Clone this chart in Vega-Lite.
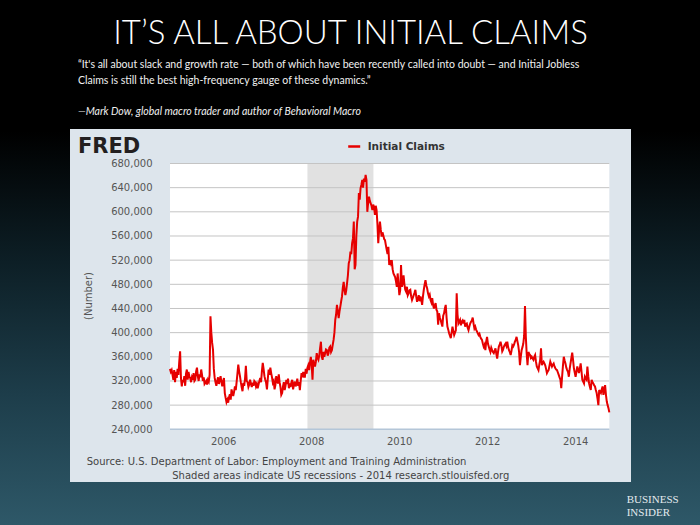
{
"$schema":"https://vega.github.io/schema/vega-lite/v6.json",
"autosize":{"type":"none"},
"width":561,"height":353,
"padding":{"left":70,"top":129,"right":69,"bottom":43},
"background":"#000000",
"config":{"view":{"stroke":null,"fill":null},"font":"DejaVu Sans"},
"title":{"text":"IT’S ALL ABOUT INITIAL CLAIMS","font":"Lato","fontWeight":300,"fontSize":33,"color":"#ffffff","anchor":"middle","frame":"group","offset":-51},
"datasets":{"claims":[
{"date":"2004-10-16","claims":340000},{"date":"2004-10-23","claims":335000},{"date":"2004-10-30","claims":338000},{"date":"2004-11-06","claims":330000},{"date":"2004-11-13","claims":322000},{"date":"2004-11-20","claims":338000},{"date":"2004-11-27","claims":318000},{"date":"2004-12-04","claims":335000},{"date":"2004-12-11","claims":325000},{"date":"2004-12-18","claims":340000},{"date":"2004-12-25","claims":330000},
{"date":"2005-01-01","claims":352000},{"date":"2005-01-08","claims":369000},{"date":"2005-01-15","claims":325000},{"date":"2005-01-22","claims":311000},{"date":"2005-01-29","claims":322000},{"date":"2005-02-05","claims":318000},{"date":"2005-02-12","claims":328000},{"date":"2005-02-19","claims":312000},{"date":"2005-02-26","claims":332000},{"date":"2005-03-05","claims":339000},{"date":"2005-03-12","claims":322000},{"date":"2005-03-19","claims":335000},{"date":"2005-03-26","claims":327000},{"date":"2005-04-02","claims":325000},{"date":"2005-04-09","claims":318000},{"date":"2005-04-16","claims":326000},{"date":"2005-04-23","claims":322000},{"date":"2005-04-30","claims":333000},{"date":"2005-05-07","claims":320000},{"date":"2005-05-14","claims":322000},{"date":"2005-05-21","claims":336000},{"date":"2005-05-28","claims":342000},{"date":"2005-06-04","claims":328000},{"date":"2005-06-11","claims":320000},{"date":"2005-06-18","claims":331000},{"date":"2005-06-25","claims":326000},{"date":"2005-07-02","claims":339000},{"date":"2005-07-09","claims":330000},{"date":"2005-07-16","claims":320000},{"date":"2005-07-23","claims":326000},{"date":"2005-07-30","claims":315000},{"date":"2005-08-06","claims":317000},{"date":"2005-08-13","claims":320000},{"date":"2005-08-20","claims":314000},{"date":"2005-08-27","claims":322000},{"date":"2005-09-03","claims":319000},{"date":"2005-09-10","claims":330000},{"date":"2005-09-17","claims":427000},{"date":"2005-09-24","claims":400000},{"date":"2005-10-01","claims":383000},{"date":"2005-10-08","claims":372000},{"date":"2005-10-15","claims":340000},{"date":"2005-10-22","claims":325000},{"date":"2005-10-29","claims":318000},{"date":"2005-11-05","claims":312000},{"date":"2005-11-12","claims":320000},{"date":"2005-11-19","claims":326000},{"date":"2005-11-26","claims":315000},{"date":"2005-12-03","claims":322000},{"date":"2005-12-10","claims":328000},{"date":"2005-12-17","claims":318000},{"date":"2005-12-24","claims":311000},{"date":"2005-12-31","claims":320000},
{"date":"2006-01-07","claims":325000},{"date":"2006-01-14","claims":300000},{"date":"2006-01-21","claims":292000},{"date":"2006-01-28","claims":285000},{"date":"2006-02-04","claims":289000},{"date":"2006-02-11","claims":284000},{"date":"2006-02-18","claims":293000},{"date":"2006-02-25","claims":298000},{"date":"2006-03-04","claims":289000},{"date":"2006-03-11","claims":306000},{"date":"2006-03-18","claims":300000},{"date":"2006-03-25","claims":295000},{"date":"2006-04-01","claims":302000},{"date":"2006-04-08","claims":311000},{"date":"2006-04-15","claims":305000},{"date":"2006-04-22","claims":318000},{"date":"2006-04-29","claims":332000},{"date":"2006-05-06","claims":347000},{"date":"2006-05-13","claims":336000},{"date":"2006-05-20","claims":328000},{"date":"2006-05-27","claims":318000},{"date":"2006-06-03","claims":310000},{"date":"2006-06-10","claims":303000},{"date":"2006-06-17","claims":317000},{"date":"2006-06-24","claims":312000},{"date":"2006-07-01","claims":324000},{"date":"2006-07-08","claims":345000},{"date":"2006-07-15","claims":320000},{"date":"2006-07-22","claims":318000},{"date":"2006-07-29","claims":310000},{"date":"2006-08-05","claims":314000},{"date":"2006-08-12","claims":322000},{"date":"2006-08-19","claims":315000},{"date":"2006-08-26","claims":310000},{"date":"2006-09-02","claims":317000},{"date":"2006-09-09","claims":312000},{"date":"2006-09-16","claims":320000},{"date":"2006-09-23","claims":318000},{"date":"2006-09-30","claims":311000},{"date":"2006-10-07","claims":315000},{"date":"2006-10-14","claims":308000},{"date":"2006-10-21","claims":314000},{"date":"2006-10-28","claims":320000},{"date":"2006-11-04","claims":325000},{"date":"2006-11-11","claims":318000},{"date":"2006-11-18","claims":336000},{"date":"2006-11-25","claims":350000},{"date":"2006-12-02","claims":340000},{"date":"2006-12-09","claims":328000},{"date":"2006-12-16","claims":322000},{"date":"2006-12-23","claims":317000},{"date":"2006-12-30","claims":306000},
{"date":"2007-01-06","claims":324000},{"date":"2007-01-13","claims":339000},{"date":"2007-01-20","claims":330000},{"date":"2007-01-27","claims":342000},{"date":"2007-02-03","claims":333000},{"date":"2007-02-10","claims":326000},{"date":"2007-02-17","claims":317000},{"date":"2007-02-24","claims":320000},{"date":"2007-03-03","claims":306000},{"date":"2007-03-10","claims":313000},{"date":"2007-03-17","claims":328000},{"date":"2007-03-24","claims":320000},{"date":"2007-03-31","claims":316000},{"date":"2007-04-07","claims":331000},{"date":"2007-04-14","claims":318000},{"date":"2007-04-21","claims":310000},{"date":"2007-04-28","claims":297000},{"date":"2007-05-05","claims":300000},{"date":"2007-05-12","claims":311000},{"date":"2007-05-19","claims":318000},{"date":"2007-05-26","claims":305000},{"date":"2007-06-02","claims":312000},{"date":"2007-06-09","claims":322000},{"date":"2007-06-16","claims":315000},{"date":"2007-06-23","claims":324000},{"date":"2007-06-30","claims":308000},{"date":"2007-07-07","claims":316000},{"date":"2007-07-14","claims":310000},{"date":"2007-07-21","claims":318000},{"date":"2007-07-28","claims":322000},{"date":"2007-08-04","claims":306000},{"date":"2007-08-11","claims":314000},{"date":"2007-08-18","claims":319000},{"date":"2007-08-25","claims":311000},{"date":"2007-09-01","claims":316000},{"date":"2007-09-08","claims":324000},{"date":"2007-09-15","claims":312000},{"date":"2007-09-22","claims":318000},{"date":"2007-09-29","claims":305000},{"date":"2007-10-06","claims":320000},{"date":"2007-10-13","claims":333000},{"date":"2007-10-20","claims":326000},{"date":"2007-10-27","claims":335000},{"date":"2007-11-03","claims":327000},{"date":"2007-11-10","claims":327000},{"date":"2007-11-17","claims":340000},{"date":"2007-11-24","claims":332000},{"date":"2007-12-01","claims":342000},{"date":"2007-12-08","claims":346000},{"date":"2007-12-15","claims":338000},{"date":"2007-12-22","claims":350000},{"date":"2007-12-29","claims":360000},
{"date":"2008-01-05","claims":348000},{"date":"2008-01-12","claims":322000},{"date":"2008-01-19","claims":355000},{"date":"2008-01-26","claims":349000},{"date":"2008-02-02","claims":344000},{"date":"2008-02-09","claims":352000},{"date":"2008-02-16","claims":366000},{"date":"2008-02-23","claims":358000},{"date":"2008-03-01","claims":355000},{"date":"2008-03-08","claims":362000},{"date":"2008-03-15","claims":374000},{"date":"2008-03-22","claims":385000},{"date":"2008-03-29","claims":360000},{"date":"2008-04-05","claims":355000},{"date":"2008-04-12","claims":368000},{"date":"2008-04-19","claims":360000},{"date":"2008-04-26","claims":366000},{"date":"2008-05-03","claims":372000},{"date":"2008-05-10","claims":371000},{"date":"2008-05-17","claims":362000},{"date":"2008-05-24","claims":366000},{"date":"2008-05-31","claims":375000},{"date":"2008-06-07","claims":377000},{"date":"2008-06-14","claims":368000},{"date":"2008-06-21","claims":371000},{"date":"2008-06-28","claims":380000},{"date":"2008-07-05","claims":388000},{"date":"2008-07-12","claims":400000},{"date":"2008-07-19","claims":421000},{"date":"2008-07-26","claims":430000},{"date":"2008-08-02","claims":446000},{"date":"2008-08-09","claims":436000},{"date":"2008-08-16","claims":424000},{"date":"2008-08-23","claims":435000},{"date":"2008-08-30","claims":443000},{"date":"2008-09-06","claims":452000},{"date":"2008-09-13","claims":460000},{"date":"2008-09-20","claims":475000},{"date":"2008-09-27","claims":484000},{"date":"2008-10-04","claims":470000},{"date":"2008-10-11","claims":462000},{"date":"2008-10-18","claims":470000},{"date":"2008-10-25","claims":482000},{"date":"2008-11-01","claims":495000},{"date":"2008-11-08","claims":515000},{"date":"2008-11-15","claims":520000},{"date":"2008-11-22","claims":534000},{"date":"2008-11-29","claims":530000},{"date":"2008-12-06","claims":548000},{"date":"2008-12-13","claims":556000},{"date":"2008-12-20","claims":584000},{"date":"2008-12-27","claims":505000},
{"date":"2009-01-03","claims":512000},{"date":"2009-01-10","claims":560000},{"date":"2009-01-17","claims":584000},{"date":"2009-01-24","claims":592000},{"date":"2009-01-31","claims":631000},{"date":"2009-02-07","claims":620000},{"date":"2009-02-14","claims":639000},{"date":"2009-02-21","claims":645000},{"date":"2009-02-28","claims":653000},{"date":"2009-03-07","claims":640000},{"date":"2009-03-14","claims":655000},{"date":"2009-03-21","claims":650000},{"date":"2009-03-28","claims":661000},{"date":"2009-04-04","claims":653000},{"date":"2009-04-11","claims":600000},{"date":"2009-04-18","claims":615000},{"date":"2009-04-25","claims":625000},{"date":"2009-05-02","claims":618000},{"date":"2009-05-09","claims":614000},{"date":"2009-05-16","claims":610000},{"date":"2009-05-23","claims":603000},{"date":"2009-05-30","claims":612000},{"date":"2009-06-06","claims":608000},{"date":"2009-06-13","claims":595000},{"date":"2009-06-20","claims":610000},{"date":"2009-06-27","claims":603000},{"date":"2009-07-04","claims":580000},{"date":"2009-07-11","claims":548000},{"date":"2009-07-18","claims":570000},{"date":"2009-07-25","claims":584000},{"date":"2009-08-01","claims":570000},{"date":"2009-08-08","claims":559000},{"date":"2009-08-15","claims":566000},{"date":"2009-08-22","claims":561000},{"date":"2009-08-29","claims":555000},{"date":"2009-09-05","claims":553000},{"date":"2009-09-12","claims":545000},{"date":"2009-09-19","claims":537000},{"date":"2009-09-26","claims":530000},{"date":"2009-10-03","claims":542000},{"date":"2009-10-10","claims":512000},{"date":"2009-10-17","claims":520000},{"date":"2009-10-24","claims":515000},{"date":"2009-10-31","claims":520000},{"date":"2009-11-07","claims":505000},{"date":"2009-11-14","claims":498000},{"date":"2009-11-21","claims":495000},{"date":"2009-11-28","claims":492000},{"date":"2009-12-05","claims":485000},{"date":"2009-12-12","claims":476000},{"date":"2009-12-19","claims":498000},{"date":"2009-12-26","claims":480000},
{"date":"2010-01-02","claims":462000},{"date":"2010-01-09","claims":470000},{"date":"2010-01-16","claims":512000},{"date":"2010-01-23","claims":476000},{"date":"2010-01-30","claims":482000},{"date":"2010-02-06","claims":495000},{"date":"2010-02-13","claims":480000},{"date":"2010-02-20","claims":471000},{"date":"2010-02-27","claims":468000},{"date":"2010-03-06","claims":476000},{"date":"2010-03-13","claims":462000},{"date":"2010-03-20","claims":465000},{"date":"2010-03-27","claims":470000},{"date":"2010-04-03","claims":471000},{"date":"2010-04-10","claims":460000},{"date":"2010-04-17","claims":454000},{"date":"2010-04-24","claims":458000},{"date":"2010-05-01","claims":462000},{"date":"2010-05-08","claims":466000},{"date":"2010-05-15","claims":471000},{"date":"2010-05-22","claims":460000},{"date":"2010-05-29","claims":451000},{"date":"2010-06-05","claims":456000},{"date":"2010-06-12","claims":462000},{"date":"2010-06-19","claims":452000},{"date":"2010-06-26","claims":460000},{"date":"2010-07-03","claims":455000},{"date":"2010-07-10","claims":446000},{"date":"2010-07-17","claims":460000},{"date":"2010-07-24","claims":471000},{"date":"2010-07-31","claims":480000},{"date":"2010-08-07","claims":487000},{"date":"2010-08-14","claims":478000},{"date":"2010-08-21","claims":473000},{"date":"2010-08-28","claims":465000},{"date":"2010-09-04","claims":460000},{"date":"2010-09-11","claims":463000},{"date":"2010-09-18","claims":454000},{"date":"2010-09-25","claims":450000},{"date":"2010-10-02","claims":457000},{"date":"2010-10-09","claims":446000},{"date":"2010-10-16","claims":440000},{"date":"2010-10-23","claims":445000},{"date":"2010-10-30","claims":449000},{"date":"2010-11-06","claims":438000},{"date":"2010-11-13","claims":435000},{"date":"2010-11-20","claims":413000},{"date":"2010-11-27","claims":432000},{"date":"2010-12-04","claims":425000},{"date":"2010-12-11","claims":421000},{"date":"2010-12-18","claims":415000},{"date":"2010-12-25","claims":410000},
{"date":"2011-01-01","claims":428000},{"date":"2011-01-08","claims":432000},{"date":"2011-01-15","claims":440000},{"date":"2011-01-22","claims":446000},{"date":"2011-01-29","claims":425000},{"date":"2011-02-05","claims":410000},{"date":"2011-02-12","claims":405000},{"date":"2011-02-19","claims":399000},{"date":"2011-02-26","claims":395000},{"date":"2011-03-05","claims":391000},{"date":"2011-03-12","claims":400000},{"date":"2011-03-19","claims":410000},{"date":"2011-03-26","claims":403000},{"date":"2011-04-02","claims":396000},{"date":"2011-04-09","claims":400000},{"date":"2011-04-16","claims":404000},{"date":"2011-04-23","claims":465000},{"date":"2011-04-30","claims":430000},{"date":"2011-05-07","claims":415000},{"date":"2011-05-14","claims":418000},{"date":"2011-05-21","claims":421000},{"date":"2011-05-28","claims":412000},{"date":"2011-06-04","claims":418000},{"date":"2011-06-11","claims":420000},{"date":"2011-06-18","claims":415000},{"date":"2011-06-25","claims":421000},{"date":"2011-07-02","claims":410000},{"date":"2011-07-09","claims":414000},{"date":"2011-07-16","claims":415000},{"date":"2011-07-23","claims":408000},{"date":"2011-07-30","claims":404000},{"date":"2011-08-06","claims":410000},{"date":"2011-08-13","claims":415000},{"date":"2011-08-20","claims":418000},{"date":"2011-08-27","claims":420000},{"date":"2011-09-03","claims":425000},{"date":"2011-09-10","claims":415000},{"date":"2011-09-17","claims":407000},{"date":"2011-09-24","claims":410000},{"date":"2011-10-01","claims":405000},{"date":"2011-10-08","claims":402000},{"date":"2011-10-15","claims":399000},{"date":"2011-10-22","claims":396000},{"date":"2011-10-29","claims":398000},{"date":"2011-11-05","claims":393000},{"date":"2011-11-12","claims":390000},{"date":"2011-11-19","claims":388000},{"date":"2011-11-26","claims":382000},{"date":"2011-12-03","claims":377000},{"date":"2011-12-10","claims":380000},{"date":"2011-12-17","claims":371000},{"date":"2011-12-24","claims":385000},{"date":"2011-12-31","claims":393000},
{"date":"2012-01-07","claims":382000},{"date":"2012-01-14","claims":377000},{"date":"2012-01-21","claims":372000},{"date":"2012-01-28","claims":368000},{"date":"2012-02-04","claims":375000},{"date":"2012-02-11","claims":371000},{"date":"2012-02-18","claims":368000},{"date":"2012-02-25","claims":366000},{"date":"2012-03-03","claims":370000},{"date":"2012-03-10","claims":374000},{"date":"2012-03-17","claims":365000},{"date":"2012-03-24","claims":357000},{"date":"2012-03-31","claims":368000},{"date":"2012-04-07","claims":377000},{"date":"2012-04-14","claims":380000},{"date":"2012-04-21","claims":385000},{"date":"2012-04-28","claims":379000},{"date":"2012-05-05","claims":369000},{"date":"2012-05-12","claims":372000},{"date":"2012-05-19","claims":377000},{"date":"2012-05-26","claims":380000},{"date":"2012-06-02","claims":382000},{"date":"2012-06-09","claims":378000},{"date":"2012-06-16","claims":385000},{"date":"2012-06-23","claims":376000},{"date":"2012-06-30","claims":371000},{"date":"2012-07-07","claims":368000},{"date":"2012-07-14","claims":363000},{"date":"2012-07-21","claims":370000},{"date":"2012-07-28","claims":379000},{"date":"2012-08-04","claims":377000},{"date":"2012-08-11","claims":380000},{"date":"2012-08-18","claims":385000},{"date":"2012-08-25","claims":388000},{"date":"2012-09-01","claims":393000},{"date":"2012-09-08","claims":386000},{"date":"2012-09-15","claims":379000},{"date":"2012-09-22","claims":368000},{"date":"2012-09-29","claims":346000},{"date":"2012-10-06","claims":360000},{"date":"2012-10-13","claims":371000},{"date":"2012-10-20","claims":376000},{"date":"2012-10-27","claims":382000},{"date":"2012-11-03","claims":395000},{"date":"2012-11-10","claims":444000},{"date":"2012-11-17","claims":393000},{"date":"2012-11-24","claims":365000},{"date":"2012-12-01","claims":346000},{"date":"2012-12-08","claims":368000},{"date":"2012-12-15","claims":365000},{"date":"2012-12-22","claims":363000},{"date":"2012-12-29","claims":358000},
{"date":"2013-01-05","claims":360000},{"date":"2013-01-12","claims":357000},{"date":"2013-01-19","claims":355000},{"date":"2013-01-26","claims":360000},{"date":"2013-02-02","claims":363000},{"date":"2013-02-09","claims":352000},{"date":"2013-02-16","claims":344000},{"date":"2013-02-23","claims":341000},{"date":"2013-03-02","claims":338000},{"date":"2013-03-09","claims":347000},{"date":"2013-03-16","claims":355000},{"date":"2013-03-23","claims":374000},{"date":"2013-03-30","claims":346000},{"date":"2013-04-06","claims":350000},{"date":"2013-04-13","claims":352000},{"date":"2013-04-20","claims":349000},{"date":"2013-04-27","claims":346000},{"date":"2013-05-04","claims":340000},{"date":"2013-05-11","claims":333000},{"date":"2013-05-18","claims":336000},{"date":"2013-05-25","claims":338000},{"date":"2013-06-01","claims":345000},{"date":"2013-06-08","claims":352000},{"date":"2013-06-15","claims":348000},{"date":"2013-06-22","claims":344000},{"date":"2013-06-29","claims":347000},{"date":"2013-07-06","claims":349000},{"date":"2013-07-13","claims":344000},{"date":"2013-07-20","claims":341000},{"date":"2013-07-27","claims":339000},{"date":"2013-08-03","claims":338000},{"date":"2013-08-10","claims":334000},{"date":"2013-08-17","claims":330000},{"date":"2013-08-24","claims":326000},{"date":"2013-08-31","claims":322000},{"date":"2013-09-07","claims":308000},{"date":"2013-09-14","claims":327000},{"date":"2013-09-21","claims":345000},{"date":"2013-09-28","claims":360000},{"date":"2013-10-05","claims":354000},{"date":"2013-10-12","claims":349000},{"date":"2013-10-19","claims":342000},{"date":"2013-10-26","claims":338000},{"date":"2013-11-02","claims":335000},{"date":"2013-11-09","claims":327000},{"date":"2013-11-16","claims":340000},{"date":"2013-11-23","claims":349000},{"date":"2013-11-30","claims":358000},{"date":"2013-12-07","claims":367000},{"date":"2013-12-14","claims":355000},{"date":"2013-12-21","claims":341000},{"date":"2013-12-28","claims":334000},
{"date":"2014-01-04","claims":327000},{"date":"2014-01-11","claims":335000},{"date":"2014-01-18","claims":344000},{"date":"2014-01-25","claims":339000},{"date":"2014-02-01","claims":333000},{"date":"2014-02-08","claims":340000},{"date":"2014-02-15","claims":349000},{"date":"2014-02-22","claims":336000},{"date":"2014-03-01","claims":322000},{"date":"2014-03-08","claims":319000},{"date":"2014-03-15","claims":316000},{"date":"2014-03-22","claims":327000},{"date":"2014-03-29","claims":324000},{"date":"2014-04-05","claims":322000},{"date":"2014-04-12","claims":344000},{"date":"2014-04-19","claims":328000},{"date":"2014-04-26","claims":316000},{"date":"2014-05-03","claims":310000},{"date":"2014-05-10","claims":305000},{"date":"2014-05-17","claims":322000},{"date":"2014-05-24","claims":318000},{"date":"2014-05-31","claims":316000},{"date":"2014-06-07","claims":313000},{"date":"2014-06-14","claims":311000},{"date":"2014-06-21","claims":305000},{"date":"2014-06-28","claims":300000},{"date":"2014-07-05","claims":291000},{"date":"2014-07-12","claims":280000},{"date":"2014-07-19","claims":305000},{"date":"2014-07-26","claims":302000},{"date":"2014-08-02","claims":300000},{"date":"2014-08-09","claims":306000},{"date":"2014-08-16","claims":311000},{"date":"2014-08-23","claims":297000},{"date":"2014-08-30","claims":304000},{"date":"2014-09-06","claims":313000},{"date":"2014-09-13","claims":297000},{"date":"2014-09-20","claims":286000},{"date":"2014-09-27","claims":280000},{"date":"2014-10-04","claims":275000},{"date":"2014-10-11","claims":268000}
]},
"layer":[
{"data":{"values":[{}]},
 "mark":{"type":"rect","fill":{"gradient":"linear","x1":0,"y1":0,"x2":0,"y2":1,"stops":[{"offset":0,"color":"#000000"},{"offset":0.25,"color":"#000000"},{"offset":0.5,"color":"#0d1f26"},{"offset":0.75,"color":"#1d3d4a"},{"offset":1,"color":"#2e5868"}]}},
 "encoding":{
  "x":{"datum":{"year":2000,"month":11,"date":1,"utc":true},"type":"temporal","scale":{"type":"utc","domain":[{"year":2002,"month":7,"date":9,"utc":true},{"year":2015,"month":4,"date":9,"utc":true}],"nice":false}},
  "x2":{"datum":{"year":2017,"month":1,"date":1,"utc":true}},
  "y":{"datum":950600,"type":"quantitative","scale":{"domain":[152760,737110],"zero":false,"nice":false}},
  "y2":{"datum":81600}}},
{"data":{"values":[{}]},
 "mark":{"type":"rect","fill":"#dde5ec"},
 "encoding":{
  "x":{"datum":{"year":2002,"month":7,"date":9,"utc":true},"type":"temporal"},
  "x2":{"datum":{"year":2015,"month":4,"date":9,"utc":true}},
  "y":{"datum":737110,"type":"quantitative"},
  "y2":{"datum":152760}}},
{"data":{"values":[{}]},
 "mark":{"type":"rect","fill":"#ffffff"},
 "encoding":{
  "x":{"datum":{"year":2004,"month":10,"date":16,"utc":true},"type":"temporal"},
  "x2":{"datum":{"year":2014,"month":10,"date":11,"utc":true}},
  "y":{"datum":680000,"type":"quantitative"},
  "y2":{"datum":240000}}},
{"data":{"values":[{"start":"2007-12-01","end":"2009-06-01"}]},
 "mark":{"type":"rect","fill":"#e1e1e1"},
 "encoding":{
  "x":{"field":"start","type":"temporal"},
  "x2":{"field":"end"},
  "y":{"datum":680000,"type":"quantitative"},
  "y2":{"datum":240000}}},
{"data":{"values":[{"level":280000},{"level":320000},{"level":360000},{"level":400000},{"level":440000},{"level":480000},{"level":520000},{"level":560000},{"level":600000},{"level":640000},{"level":680000}]},
 "mark":{"type":"rule","color":"#c4c4c4","strokeWidth":1},
 "encoding":{
  "x":{"datum":{"year":2004,"month":10,"date":16,"utc":true},"type":"temporal"},
  "x2":{"datum":{"year":2014,"month":10,"date":11,"utc":true}},
  "y":{"field":"level","type":"quantitative"}}},
{"data":{"values":[{}]},
 "mark":{"type":"rule","color":"#b4c6d8","strokeWidth":1.5},
 "encoding":{
  "x":{"datum":{"year":2004,"month":10,"date":16,"utc":true},"type":"temporal"},
  "x2":{"datum":{"year":2014,"month":10,"date":11,"utc":true}},
  "y":{"datum":240000,"type":"quantitative"}}},
{"data":{"name":"claims"},
 "mark":{"type":"line","strokeWidth":2,"interpolate":"linear"},
 "encoding":{
  "x":{"field":"date","type":"temporal","axis":{"zindex":2,"orient":"bottom","offset":-52.7,"tickCount":20,"values":[{"year":2006,"month":1,"date":1,"utc":true},{"year":2008,"month":1,"date":1,"utc":true},{"year":2010,"month":1,"date":1,"utc":true},{"year":2012,"month":1,"date":1,"utc":true},{"year":2014,"month":1,"date":1,"utc":true}],"format":"%Y","labelFont":"DejaVu Sans","labelFontSize":10,"labelColor":"#555555","labelPadding":7,"labelFlush":false,"labelOverlap":false,"labelBound":false,"domain":false,"ticks":false,"tickSize":0,"grid":false,"title":null}},
  "y":{"field":"claims","type":"quantitative","axis":{"zindex":2,"orient":"left","offset":-100,"tickCount":30,"values":[240000,280000,320000,360000,400000,440000,480000,520000,560000,600000,640000,680000],"format":",d","labelFont":"DejaVu Sans","labelFontSize":10,"labelColor":"#555555","labelPadding":18,"labelOverlap":false,"labelBound":false,"labelFlush":false,"domain":false,"ticks":false,"tickSize":0,"grid":false,"title":"(Number)","titleFont":"DejaVu Sans","titleFontSize":10,"titleFontWeight":"normal","titleColor":"#555555","titleX":-82,"titleY":166.5,"titleAngle":270,"titleBaseline":"middle","titleAlign":"center"}},
  "color":{"datum":"Initial Claims","type":"nominal","scale":{"range":["#e60000"]},"legend":{"orient":"none","legendX":276.7,"legendY":10,"title":null,"symbolType":"stroke","symbolSize":144,"symbolStrokeWidth":2.5,"labelFont":"DejaVu Sans","labelFontWeight":"bold","labelFontSize":10.5,"labelColor":"#333333","labelOffset":6,"padding":0}}}},
{"data":{"values":[{}]},
 "mark":{"type":"text","text":["“It's all about slack and growth rate — both of which have been recently called into doubt — and Initial Jobless","Claims is still the best high-frequency gauge of these dynamics.”"],"font":"Lato","fontSize":10.5,"lineHeight":15.5,"color":"#f0f0f0","align":"left","baseline":"alphabetic"},
 "encoding":{
  "x":{"datum":{"year":2002,"month":9,"date":13,"utc":true},"type":"temporal"},
  "y":{"datum":838000,"type":"quantitative"}}},
{"data":{"values":[{}]},
 "mark":{"type":"text","text":"—Mark Dow, global macro trader and author of Behavioral Macro","font":"Lato","fontSize":10.5,"fontStyle":"italic","color":"#f0f0f0","align":"left","baseline":"alphabetic"},
 "encoding":{
  "x":{"datum":{"year":2002,"month":9,"date":13,"utc":true},"type":"temporal"},
  "y":{"datum":760000,"type":"quantitative"}}},
{"data":{"values":[{}]},
 "mark":{"type":"text","text":"FRED","font":"DejaVu Sans","fontSize":21,"fontWeight":"bold","color":"#231f20","align":"left","baseline":"alphabetic"},
 "encoding":{
  "x":{"datum":{"year":2002,"month":9,"date":13,"utc":true},"type":"temporal"},
  "y":{"datum":698000,"type":"quantitative"}}},
{"data":{"values":[{}]},
 "mark":{"type":"text","text":"Source: U.S. Department of Labor: Employment and Training Administration","font":"DejaVu Sans","fontSize":10,"color":"#444444","align":"left","baseline":"alphabetic"},
 "encoding":{
  "x":{"datum":{"year":2002,"month":11,"date":25,"utc":true},"type":"temporal"},
  "y":{"datum":180900,"type":"quantitative"}}},
{"data":{"values":[{}]},
 "mark":{"type":"text","text":"Shaded areas indicate US recessions - 2014 research.stlouisfed.org","font":"DejaVu Sans","fontSize":10,"color":"#444444","align":"left","baseline":"alphabetic"},
 "encoding":{
  "x":{"datum":{"year":2004,"month":11,"date":4,"utc":true},"type":"temporal"},
  "y":{"datum":158200,"type":"quantitative"}}},
{"data":{"values":[{}]},
 "mark":{"type":"text","text":["BUSINESS","INSIDER"],"font":"Liberation Serif","fontSize":11,"lineHeight":13.5,"color":"#e4eaee","align":"left","baseline":"alphabetic"},
 "encoding":{
  "x":{"datum":{"year":2015,"month":3,"date":4,"utc":true},"type":"temporal"},
  "y":{"datum":118500,"type":"quantitative"}}}
]
}
